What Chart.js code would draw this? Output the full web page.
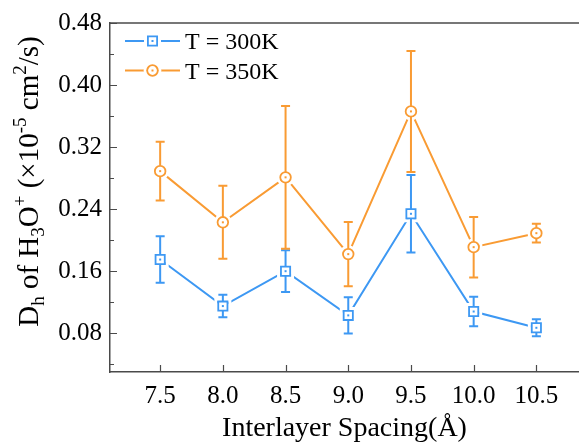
<!DOCTYPE html>
<html><head><meta charset="utf-8">
<script src="https://cdn.jsdelivr.net/npm/chart.js@4.4.0/dist/chart.umd.min.js"></script>
<style>html,body{margin:0;padding:0;background:#fff;overflow:hidden}</style>
</head><body>
<canvas id="c" width="579" height="442"></canvas>
<script>
// ---- data ----
const spacing = [7.5, 8.0, 8.5, 9.0, 9.5, 10.0, 10.5];
const d300 = [0.175, 0.115, 0.160, 0.103, 0.234, 0.108, 0.087];
const err300 = [0.030, 0.0145, 0.027, 0.0235, 0.050, 0.019, 0.011];
const d350 = [0.289, 0.223, 0.281, 0.182, 0.366, 0.191, 0.209];
const err350 = [0.038, 0.047, 0.092, 0.0415, 0.078, 0.039, 0.012];
const seriesNames = ['T = 300K', 'T = 350K'];
const xTicks = [7.5, 8.0, 8.5, 9.0, 9.5, 10.0, 10.5];
const yTicks = [0.08, 0.16, 0.24, 0.32, 0.40, 0.48];
const yMinorTicks = [0.04, 0.12, 0.20, 0.28, 0.36, 0.44];
const xTitle = 'Interlayer Spacing(Å)';
const yTitleParts = [['D','n'],['h','sub'],[' of H','n'],['3','sub'],['O','n'],['+','sup'],[' (×10','n'],['-5','sup'],[' cm','n'],['2','sup'],['/s)','n']];

const BLUE = '#3d98f3', ORANGE = '#f99b33', AXIS = '#4a4a4a';
const SERIF = '"Liberation Serif","Times New Roman",serif';
const errs = [err300, err350];
const styles = [{shape:'rect', color:BLUE}, {shape:'circle', color:ORANGE}];

function drawMarker(ctx, shape, color, x, y, halo) {
  ctx.save();
  if (halo) {
    ctx.strokeStyle = '#fff'; ctx.lineWidth = 3;
    ctx.beginPath();
    if (shape === 'rect') ctx.rect(x - 7, y - 7, 14, 14);
    else ctx.arc(x, y, 7.4, 0, Math.PI * 2);
    ctx.stroke();
  }
  ctx.fillStyle = '#fff'; ctx.strokeStyle = color; ctx.lineWidth = 1.8;
  ctx.beginPath();
  if (shape === 'rect') ctx.rect(x - 4.6, y - 4.6, 9.2, 9.2);
  else ctx.arc(x, y, 5.3, 0, Math.PI * 2);
  ctx.fill(); ctx.stroke();
  ctx.fillStyle = color;
  ctx.fillRect(x - 1, y - 1, 2, 2);
  ctx.restore();
}

const decor = {
  id: 'decor',
  afterDatasetsDraw(chart) {
    const ctx = chart.ctx, ys = chart.scales.y;
    chart.data.datasets.forEach((ds, i) => {
      const meta = chart.getDatasetMeta(i);
      const st = styles[i];
      meta.data.forEach((el, j) => {
        const x = el.x, y = el.y;
        const v = ds.data[j].y, e = errs[i][j];
        const yHi = ys.getPixelForValue(v + e), yLo = ys.getPixelForValue(v - e);
        ctx.save();
        ctx.strokeStyle = '#fff'; ctx.lineWidth = 3;
        ctx.beginPath();
        if (st.shape === 'rect') ctx.rect(x - 7, y - 7, 14, 14);
        else ctx.arc(x, y, 7.4, 0, Math.PI * 2);
        ctx.stroke();
        const r = st.shape === 'rect' ? 4.6 : 5.3;
        ctx.strokeStyle = st.color; ctx.lineWidth = 2;
        ctx.beginPath();
        ctx.moveTo(x, y - r); ctx.lineTo(x, yHi);
        ctx.moveTo(x, y + r); ctx.lineTo(x, yLo);
        ctx.moveTo(x - 4.5, yHi); ctx.lineTo(x + 4.5, yHi);
        ctx.moveTo(x - 4.5, yLo); ctx.lineTo(x + 4.5, yLo);
        ctx.stroke();
        ctx.restore();
        drawMarker(ctx, st.shape, st.color, x, y, false);
      });
    });
  },
  afterDraw(chart) {
    const ctx = chart.ctx, ca = chart.chartArea, xs = chart.scales.x, ys = chart.scales.y;
    ctx.save();
    ctx.strokeStyle = AXIS; ctx.lineWidth = 1.5;
    ctx.beginPath(); ctx.moveTo(ca.left, ca.top); ctx.lineTo(chart.width, ca.top); ctx.stroke();
    ctx.lineWidth = 1.2;
    ctx.beginPath();
    yTicks.forEach(v => { const p = Math.round(ys.getPixelForValue(v)) + 0.5; ctx.moveTo(ca.left, p); ctx.lineTo(ca.left + 7, p); });
    yMinorTicks.forEach(v => { const p = Math.round(ys.getPixelForValue(v)) + 0.5; ctx.moveTo(ca.left, p); ctx.lineTo(ca.left + 4, p); });
    xTicks.forEach(v => { const p = Math.round(xs.getPixelForValue(v)) + 0.5; ctx.moveTo(p, ca.bottom); ctx.lineTo(p, ca.bottom - 7); });
    ctx.stroke();
    const lx0 = 125, lx1 = 180, ly = [41, 70.5];
    seriesNames.forEach((name, i) => {
      const st = styles[i];
      ctx.strokeStyle = st.color; ctx.lineWidth = 2;
      ctx.beginPath(); ctx.moveTo(lx0, ly[i]); ctx.lineTo(lx1, ly[i]); ctx.stroke();
      drawMarker(ctx, st.shape, st.color, (lx0 + lx1) / 2, ly[i], true);
      ctx.fillStyle = '#000'; ctx.font = '24px ' + SERIF;
      ctx.textBaseline = 'alphabetic'; ctx.textAlign = 'left';
      ctx.fillText(name, 185, ly[i] + 8);
    });
    const big = '29px ' + SERIF, small = '19px ' + SERIF;
    let total = 0;
    yTitleParts.forEach(([t, k]) => { ctx.font = k === 'n' ? big : small; total += ctx.measureText(t).width; });
    ctx.translate(38, 181.5 + total / 2);
    ctx.rotate(-Math.PI / 2);
    ctx.fillStyle = '#000'; ctx.textBaseline = 'alphabetic'; ctx.textAlign = 'left';
    let cx = 0;
    yTitleParts.forEach(([t, k]) => {
      ctx.font = k === 'n' ? big : small;
      const dy = k === 'sub' ? 6 : (k === 'sup' ? -12 : 0);
      ctx.fillText(t, cx, dy);
      cx += ctx.measureText(t).width;
    });
    ctx.restore();
  }
};

new Chart(document.getElementById('c'), {
  type: 'line',
  data: {
    datasets: [
      { label: seriesNames[0], data: spacing.map((x, i) => ({x, y: d300[i]})), borderColor: BLUE, borderWidth: 2, pointRadius: 0, pointHoverRadius: 0, tension: 0, fill: false },
      { label: seriesNames[1], data: spacing.map((x, i) => ({x, y: d350[i]})), borderColor: ORANGE, borderWidth: 2, pointRadius: 0, pointHoverRadius: 0, tension: 0, fill: false }
    ]
  },
  options: {
    responsive: false, animation: false, devicePixelRatio: 1,
    layout: { padding: { left: 0, right: 0, top: 21, bottom: 0 } },
    plugins: { legend: { display: false }, tooltip: { enabled: false } },
    scales: {
      x: {
        type: 'linear', min: 7.1, max: 10.84,
        afterFit(s) { s.height = 70; },
        afterBuildTicks(s) { s.ticks = xTicks.map(v => ({value: v})); },
        grid: { display: false, drawTicks: false },
        border: { display: true, color: AXIS, width: 1.5 },
        ticks: { color: '#000', font: { family: SERIF, size: 25 }, padding: 9, maxRotation: 0, autoSkip: false, callback: v => Number(v).toFixed(1) },
        title: { display: true, text: xTitle, color: '#000', font: { family: SERIF, size: 28 }, padding: { top: 0, bottom: -3 } }
      },
      y: {
        type: 'linear', min: 0.03, max: 0.48,
        afterFit(s) { s.width = 110; },
        afterBuildTicks(s) { s.ticks = yTicks.map(v => ({value: v})); },
        grid: { display: false, drawTicks: false },
        border: { display: true, color: AXIS, width: 1.5 },
        ticks: { color: '#000', font: { family: SERIF, size: 25 }, padding: 8, callback: v => Number(v).toFixed(2) }
      }
    }
  },
  plugins: [decor]
});
</script>
</body></html>
